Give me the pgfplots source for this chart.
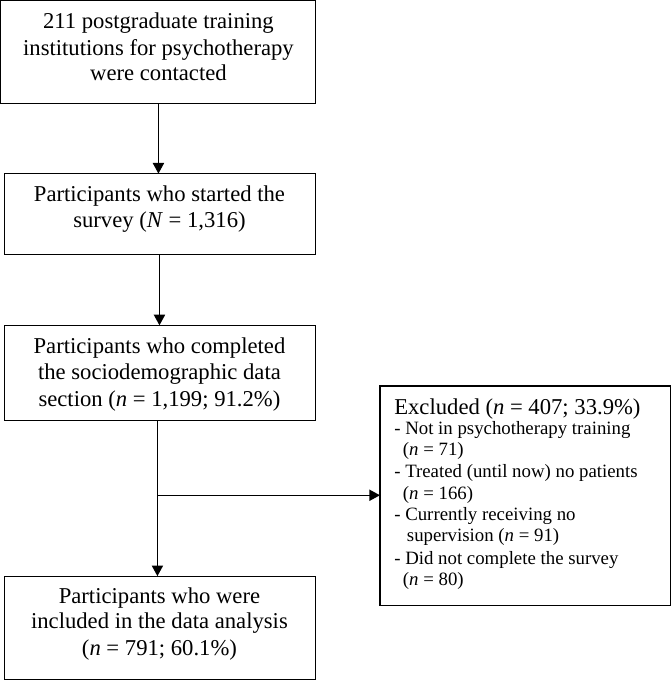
\documentclass[border=0pt]{standalone}
\usepackage{fontspec}
\setmainfont{Liberation Serif}
\usepackage{pgfplots}
\pgfplotsset{compat=1.18}
\usetikzlibrary{arrows.meta}
\begin{document}
\begin{tikzpicture}
\begin{axis}[width=670pt,height=680pt,scale only axis,
  xmin=0,xmax=670,ymin=0,ymax=680,y dir=reverse,hide axis,clip=false,
  cycle list={{draw=black,line width=1.3pt,mark=none}}]
\tikzset{bx/.style={draw=black,line width=1.3pt,mark=none,line join=miter},
         ar/.style={draw=black,line width=1.5pt,mark=none,-{Triangle[width=11pt,length=10.5pt]}}}
% boxes
\addplot[bx] coordinates {(7,8)(318,8)(318,110)(7,110)} --cycle;
\addplot[bx] coordinates {(11,179)(318,179)(318,259)(11,259)} --cycle;
\addplot[bx] coordinates {(11,329)(318,329)(318,423)(11,423)} --cycle;
\addplot[bx] coordinates {(11,577)(318,577)(318,679)(11,679)} --cycle;
\addplot[bx] coordinates {(382,389)(669,389)(669,606)(382,606)} --cycle;
% arrows
\addplot[ar] coordinates {(163,110)(163,179)};
\addplot[ar] coordinates {(164,259)(164,329)};
\addplot[ar] coordinates {(162,423)(162,577)};
\addplot[ar] coordinates {(162,497)(382,497)};
% main box text
\tikzset{mt/.style={anchor=base,inner sep=0pt,font=\fontsize{22.4}{25.6}\selectfont},
         et/.style={anchor=base west,inner sep=0pt,font=\fontsize{18.6}{21.4}\selectfont}}
\node[mt] at (axis cs:163,36) {211 postgraduate training};
\node[mt] at (axis cs:163,62) {institutions for psychotherapy};
\node[mt] at (axis cs:163,87) {were contacted};
\node[mt] at (axis cs:164,207) {Participants who started the};
\node[mt] at (axis cs:164,232) {survey (\textit{N} = 1,316)};
\node[mt] at (axis cs:164,357) {Participants who completed};
\node[mt] at (axis cs:164,383) {the sociodemographic data};
\node[mt] at (axis cs:164,409) {section (\textit{n} = 1,199; 91.2\%)};
\node[mt] at (axis cs:164,604) {Participants who were};
\node[mt] at (axis cs:164,629) {included in the data analysis};
\node[mt] at (axis cs:164,655) {(\textit{n} = 791; 60.1\%)};
% excluded box text
\node[mt,anchor=base west] at (axis cs:396,417) {Excluded (\textit{n} = 407; 33.9\%)};
\node[et] at (axis cs:396,437) {- Not in psychotherapy training};
\node[et] at (axis cs:404.5,458) {(\textit{n} = 71)};
\node[et] at (axis cs:396,479) {- Treated (until now) no patients};
\node[et] at (axis cs:404.5,501) {(\textit{n} = 166)};
\node[et] at (axis cs:396,522) {- Currently receiving no};
\node[et] at (axis cs:408.5,543) {supervision (\textit{n} = 91)};
\node[et] at (axis cs:396,565) {- Did not complete the survey};
\node[et] at (axis cs:404.5,586) {(\textit{n} = 80)};
\end{axis}
\end{tikzpicture}
\end{document}
